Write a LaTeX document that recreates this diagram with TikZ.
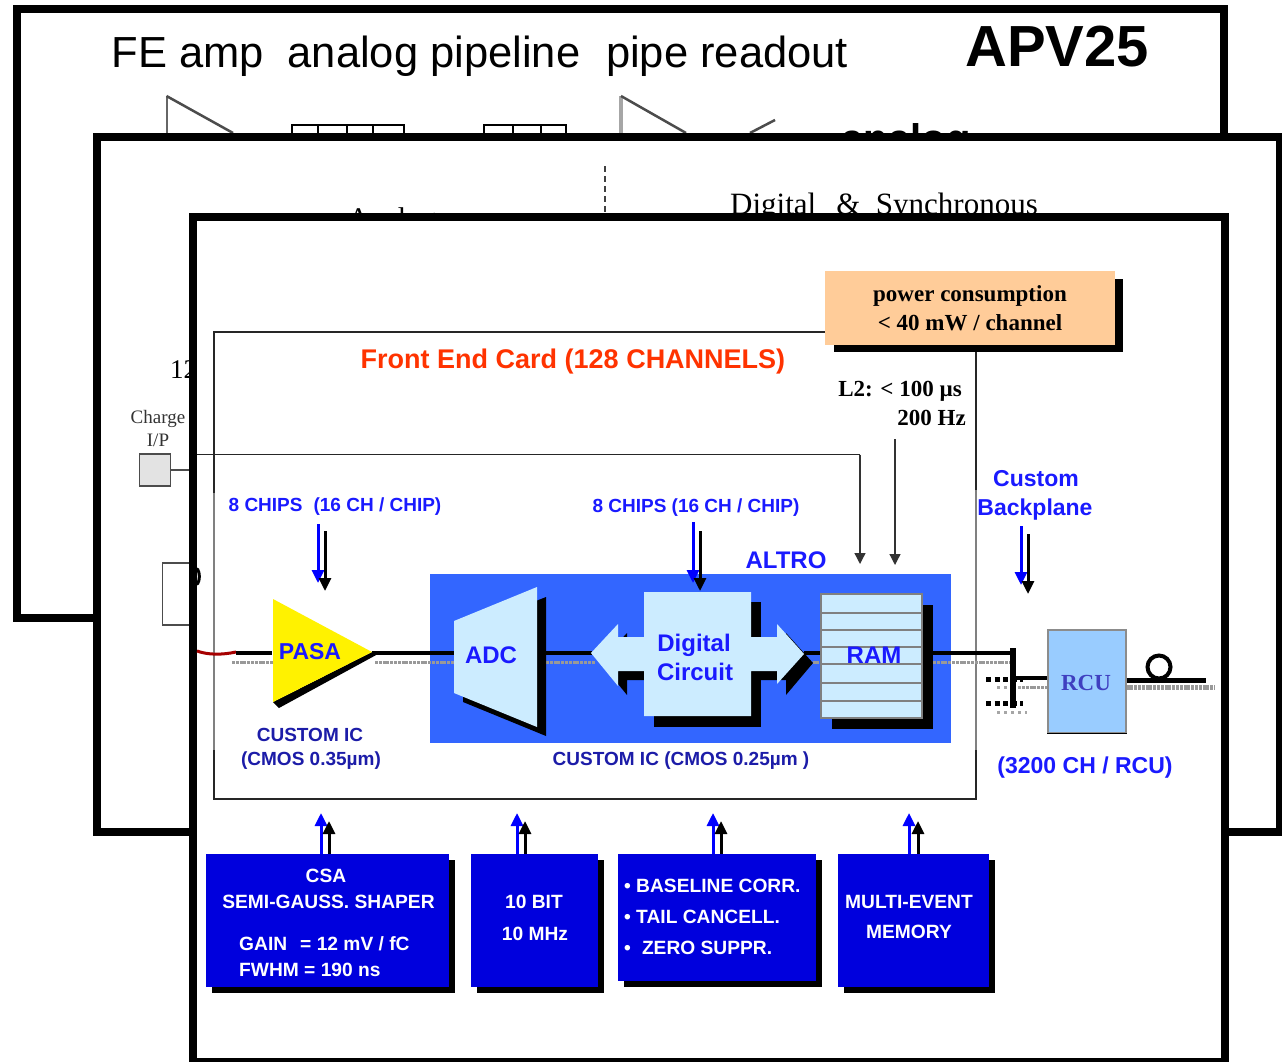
\documentclass[tikz,border=0pt]{standalone}
\usepackage{fontspec}
\setmainfont{Liberation Serif}
\setsansfont{Liberation Sans}
\usetikzlibrary{arrows.meta}
\definecolor{bluetext}{HTML}{1A1AFF}
\definecolor{darkblue}{HTML}{1C1CA8}
\definecolor{boxblue}{HTML}{0000DD}
\definecolor{chipblue}{HTML}{3366FF}
\definecolor{lightcell}{HTML}{CCECFF}
\definecolor{rcublue}{HTML}{99CCFF}
\definecolor{rcutext}{HTML}{3F3FC0}
\definecolor{orangebox}{HTML}{FFCC99}
\definecolor{redorange}{HTML}{FF3300}
\newcommand{\fs}[1]{\fontsize{#1}{#1}\selectfont}
\tikzset{
  frame/.style={draw=black,line width=8pt,fill=white},
  txt/.style={inner sep=0pt,anchor=mid,align=center},
  txtl/.style={inner sep=0pt,anchor=mid west,align=left},
  sb/.style={font=\sffamily\bfseries\fs{#1}},
  ser/.style={font=\rmfamily\fs{#1}},
  serb/.style={font=\rmfamily\bfseries\fs{#1}},
  bluelab/.style={txt,sb=#1,text=bluetext},
  darklab/.style={txt,sb=#1,text=darkblue},
  whitelab/.style={sb=19.2,text=white},
  sigline/.style={line width=3.5pt,black},
  grayline/.style={line width=3pt,black!40,dash pattern=on 3pt off 0.8pt},
  bluebox/.style={fill=boxblue,draw=none,inner sep=0pt},
  bluearr/.style={draw=blue,line width=3pt,-{Triangle[length=13pt,width=12pt]},fill=blue},
  blackarr/.style={draw=black,line width=3pt,-{Triangle[length=13pt,width=12pt]}},
  thinarr/.style={draw=black!80,line width=1.3pt,-{Triangle[length=11pt,width=11pt]}},
  cell/.style={fill=lightcell,draw=none},
}
\begin{document}
\begin{tikzpicture}[x=1pt,y=-1pt]
\useasboundingbox (0,0) rectangle (1282,1062);
\fill[white] (0,0) rectangle (1282,1062);

% ---------- back slide: APV25
\draw[frame] (16.5,9) rectangle (1224,618);
\node[txt,font=\sffamily\fs{43.5}] (t1) at (188,65) {FE amp};
\node[txt,font=\sffamily\fs{43.5}] (t2) at (434,65) {analog pipeline};
\node[txt,font=\sffamily\fs{43.5}] (t3) at (727,65) {pipe readout};
\node[txt,font=\sffamily\bfseries\fs{58}] (apv) at (1057,64) {APV25};
\draw[gray!80!black,line width=2pt] (166.5,133) -- (166.5,96);
\draw[black!70,line width=2.5pt] (166.5,96) -- (233,133);
\draw[black,line width=2pt] (292,133) |- (404,125) -- (404,133)
  (318,125) -- (318,133) (347,125) -- (347,133) (373,125) -- (373,133);
\draw[black,line width=2pt] (484,133) |- (566,125) -- (566,133)
  (513,125) -- (513,133) (541,125) -- (541,133);
\draw[gray!70,line width=3.5pt] (621,133) -- (621,96);
\draw[black!70,line width=2.5pt] (621,96) -- (686,133);
\draw[black!70,line width=2.5pt] (750,133) -- (775,120);
\node[txt,font=\sffamily\bfseries\fs{40}] (ana) at (906,150) {analog};

% ---------- middle slide
\draw[frame] (97,137) rectangle (1279.5,832);
\draw[black!75,line width=1.6pt,dash pattern=on 6pt off 4pt] (605,166) -- (605,214);
\node[txt,ser=31] (dig) at (884,212) {Digital\hspace{0.4em} \&\hspace{0.25em} Synchronous};
\node[txt,ser=30] (ang) at (392,226) {Analog};
\node[txtl,ser=27] (n12) at (170,376) {12};
\node[txt,ser=19,text=black!80] (chg) at (158,421) {Charge};
\node[txt,ser=19,text=black!80] (ip) at (158,444) {I/P};
\node[draw=black!70,line width=1.4pt,fill=black!11,minimum width=31pt,minimum height=32pt,inner sep=0pt] (cbox) at (155,470) {};
\draw[black!70,line width=1.4pt] (cbox.east) -- (200,470);
\draw[black!70,line width=1.4pt] (200,563) -| (162.5,625) -- (200,625);

% ---------- front slide: ALTRO
\draw[frame] (193,217) rectangle (1225,1062);
\draw[black,line width=3pt,line cap=round] (197.5,569) .. controls (200,573) and (200,580) .. (197.5,584);

% front-end card outline
\node[draw=black!85,line width=1.6pt,minimum width=762pt,minimum height=467pt,inner sep=0pt] (card) at (595,565.5) {};
\draw[black!50,line width=1.8pt] (214,493) -- (214,750) (976,490) -- (976,750);

% power box
\fill[black] (834,279) rectangle (1123,352);
\node[fill=orangebox,minimum width=290pt,minimum height=74pt,inner sep=0pt] (power) at (970,308) {};
\node[txt,serb=23] (p1) at (970,299) {power consumption};
\node[txt,serb=23] (p2) at (970,328) {< 40 mW / channel};

\node[txt,sb=27,text=redorange] (fec) at (573,366) {Front End Card (128 CHANNELS)};
\node[inner sep=0pt,anchor=mid east,serb=23] (l2a) at (962,394) {L2: < 100 µs};
\node[inner sep=0pt,anchor=mid east,serb=23] (l2b) at (966,423) {200 Hz};

% trigger lines
\coordinate (charge) at (197,454.5);
\coordinate (corner) at (860,454.5);
\coordinate (tipa) at (860,564);
\coordinate (l2top) at (895,439);
\coordinate (tipb) at (895,565);
\draw[black!85,line width=1.6pt] (charge) -- (corner);
\draw[thinarr] (corner) -- (tipa);
\draw[thinarr] (l2top) -- (tipb);

% labels
\node[bluelab=19] (c1) at (335,509) {8 CHIPS\hspace{0.3em} (16 CH / CHIP)};
\node[bluelab=19] (c2) at (696,510) {8 CHIPS (16 CH / CHIP)};
\node[bluelab=24] (altro) at (786,566) {ALTRO};
\node[bluelab=23] (cust) at (1036,484) {Custom};
\node[bluelab=23] (back) at (1035,513) {Backplane};
\node[bluelab=23] (ch) at (1085,771) {(3200 CH / RCU)};
\node[darklab=19] (ci1) at (310,739) {CUSTOM IC};
\node[darklab=19] (ci2) at (311,763) {(CMOS 0.35µm)};
\node[darklab=19] (ci3) at (681,763) {CUSTOM IC (CMOS 0.25µm )};

% chip background
\node[fill=chipblue,minimum width=521pt,minimum height=169pt,inner sep=0pt] (chip) at (690.5,658.5) {};

% analog signal line
\draw[red!65!black,line width=3pt] (197,651) .. controls (208,655) and (222,655) .. (236,652);
\coordinate (inL) at (236,653);
\coordinate (gL) at (232,662);
\coordinate (pasaIn) at (272,653);
\coordinate (pasaTip) at (372,653);
\coordinate (adcIn) at (454,653);
\coordinate (adcOut) at (546,653);
\coordinate (digL) at (592,653);
\coordinate (digR) at (804,653);
\coordinate (ramIn) at (821,653);
\coordinate (ramOut) at (933,653);
\coordinate (busIn) at (1013,653);
\draw[sigline] (inL) -- (pasaIn);
\draw[sigline] (pasaTip) -- (adcIn) (adcOut) -- (digL) (digR) -- (ramIn) (ramOut) -- (busIn);
\draw[grayline] (gL) -- (274,662) (375,662) -- (454,662) (546,662) -- (595,662) (805,662) -- (821,662) (933,662) -- (1016,662);

% PASA
\fill[black] (273,702) -- (279,708) -- (378,654) -- (372,652) -- cycle;
\fill[yellow] (273,599) -- (372,652) -- (273,702) -- cycle;
\node[bluelab=23] (pasa) at (310,657) {PASA};

% ADC
\fill[black] (463,630) -- (546,597) -- (546,736) -- (463,702) -- cycle;
\fill[lightcell] (454,621) -- (537,587) -- (537,727) -- (454,693) -- cycle;
\node[bluelab=24] (adc) at (491,661) {ADC};

% Digital circuit drop shadows
\fill[black] (654,602) rectangle (761,727);
\fill[black] (600,662) -- (627,633) -- (627,646) -- (660,646) -- (660,680) -- (627,680) -- (627,695) -- cycle;
\fill[black] (813,663) -- (786,633) -- (786,646) -- (755,646) -- (755,680) -- (786,680) -- (786,695) -- cycle;
% Digital circuit with double arrow
\fill[lightcell] (591,653) -- (618,624) -- (618,637) -- (644,637) -- (644,592) -- (751,592) -- (751,637) -- (777,637) -- (777,624) -- (804,654) -- (777,684) -- (777,671) -- (751,671) -- (751,716) -- (644,716) -- (644,671) -- (618,671) -- (618,686) -- cycle;
\node[bluelab=24] (dc1) at (694,649) {Digital};
\node[bluelab=24] (dc2) at (695,678) {Circuit};

% RAM
\fill[black] (832,605) rectangle (933,729);
\node[cell,draw=gray,line width=2.2pt,minimum width=101pt,minimum height=124pt,inner sep=0pt] (ram) at (871.5,656) {};
\foreach \yy in {613,630,647,664,683,701} {\draw[gray,line width=1.8pt] (821,\yy) -- (922,\yy);}
\node[bluelab=24] (ramt) at (874,661) {RAM};

% backplane
\coordinate (busTop) at (1013,648);
\coordinate (busBot) at (1013,708);
\node[minimum width=78pt,minimum height=103pt,fill=rcublue,draw=black!45,line width=1.2pt,inner sep=0pt] (rcu) at (1087,681.5) {};
\draw[black,line width=1.6pt] (rcu.south west) -- (rcu.south east);
\node[txt,serb=23,text=rcutext] (rcut) at (1086,688) {RCU};
\coordinate (busOut) at (1013,678);
\draw[grayline] (1022,687) -- (rcu.west |- 0,687);
\draw[black,line width=5pt,dash pattern=on 5pt off 3.5pt] (986,679) -- (1023,679) (986,703) -- (1023,703);
\draw[black!35,line width=3pt,dash pattern=on 3pt off 4pt] (997,687) -- (1022,687) (997,712) -- (1027,712);
\draw[black,line width=6.5pt] (busTop) -- (busBot);
\draw[sigline,line width=4pt] (busOut) -- (rcu.west |- busOut);
\coordinate (outEnd) at (1206,680);
\coordinate (gEnd) at (1215,687.5);
\draw[grayline,line width=5pt] (rcu.east |- gEnd) -- (gEnd);
\draw[black,line width=5pt] (rcu.east |- outEnd) -- (outEnd);
\node[circle,draw=black,line width=4pt,minimum size=23pt,inner sep=0pt] (loop) at (1159,667) {};

% vertical blue/black arrows
\coordinate (a1) at (318,524); \coordinate (a1t) at (318,583);
\coordinate (k1) at (325,531); \coordinate (k1t) at (325,591);
\coordinate (a2) at (693,522); \coordinate (a2t) at (693,583);
\coordinate (k2) at (700,531); \coordinate (k2t) at (700,591);
\coordinate (a3) at (1021,526); \coordinate (a3t) at (1021,585);
\coordinate (k3) at (1028,534); \coordinate (k3t) at (1028,594);
\draw[bluearr] (a1) -- (a1t); \draw[blackarr] (k1) -- (k1t);
\draw[bluearr] (a2) -- (a2t); \draw[blackarr] (k2) -- (k2t);
\draw[bluearr] (a3) -- (a3t); \draw[blackarr] (k3) -- (k3t);

% bottom boxes
\fill[black] (212,860) rectangle (455,993);
\fill[black] (477,860) rectangle (604,993);
\fill[black] (624,860) rectangle (821.5,987);
\fill[black] (843.5,860) rectangle (995,993);
\node[bluebox,minimum width=243pt,minimum height=133pt] (b1) at (327.5,920.5) {};
\node[bluebox,minimum width=127pt,minimum height=133pt] (b2) at (534.5,920.5) {};
\node[bluebox,minimum width=197.5pt,minimum height=127pt] (b3) at (716.75,917.5) {};
\node[bluebox,minimum width=151.5pt,minimum height=133pt] (b4) at (913.25,920.5) {};

\node[txt,whitelab] (s1) at (326,880) {CSA};
\node[txt,whitelab] (s2) at (328.5,906) {SEMI-GAUSS. SHAPER};
\node[txtl,whitelab] (s3) at (239,948) {GAIN\hspace{0.4em} = 12 mV / fC};
\node[txtl,whitelab] (s4) at (239,974) {FWHM = 190 ns};
\node[txt,whitelab] (s5) at (534,906) {10 BIT};
\node[txt,whitelab] (s6) at (535,938) {10 MHz};
\node[txtl,whitelab] (s7) at (624,890) {• BASELINE CORR.};
\node[txtl,whitelab] (s8) at (624,921) {• TAIL CANCELL.};
\node[txtl,whitelab] (s9) at (624,952) {•\hspace{0.3em} ZERO SUPPR.};
\node[txt,whitelab] (s10) at (909,906) {MULTI-EVENT};
\node[txt,whitelab] (s11) at (909,936) {MEMORY};

\coordinate (u1) at (321,813); \coordinate (v1) at (329,821);
\coordinate (u2) at (517,813); \coordinate (v2) at (525,821);
\coordinate (u3) at (713,813); \coordinate (v3) at (721,821);
\coordinate (u4) at (909,813); \coordinate (v4) at (918,821);
\foreach \b/\u/\v in {b1/u1/v1,b2/u2/v2,b3/u3/v3,b4/u4/v4}{
  \draw[bluearr] (\u |- \b.north) -- (\u);
  \draw[blackarr] (\v |- \b.north) -- (\v);
}
\end{tikzpicture}
\end{document}
